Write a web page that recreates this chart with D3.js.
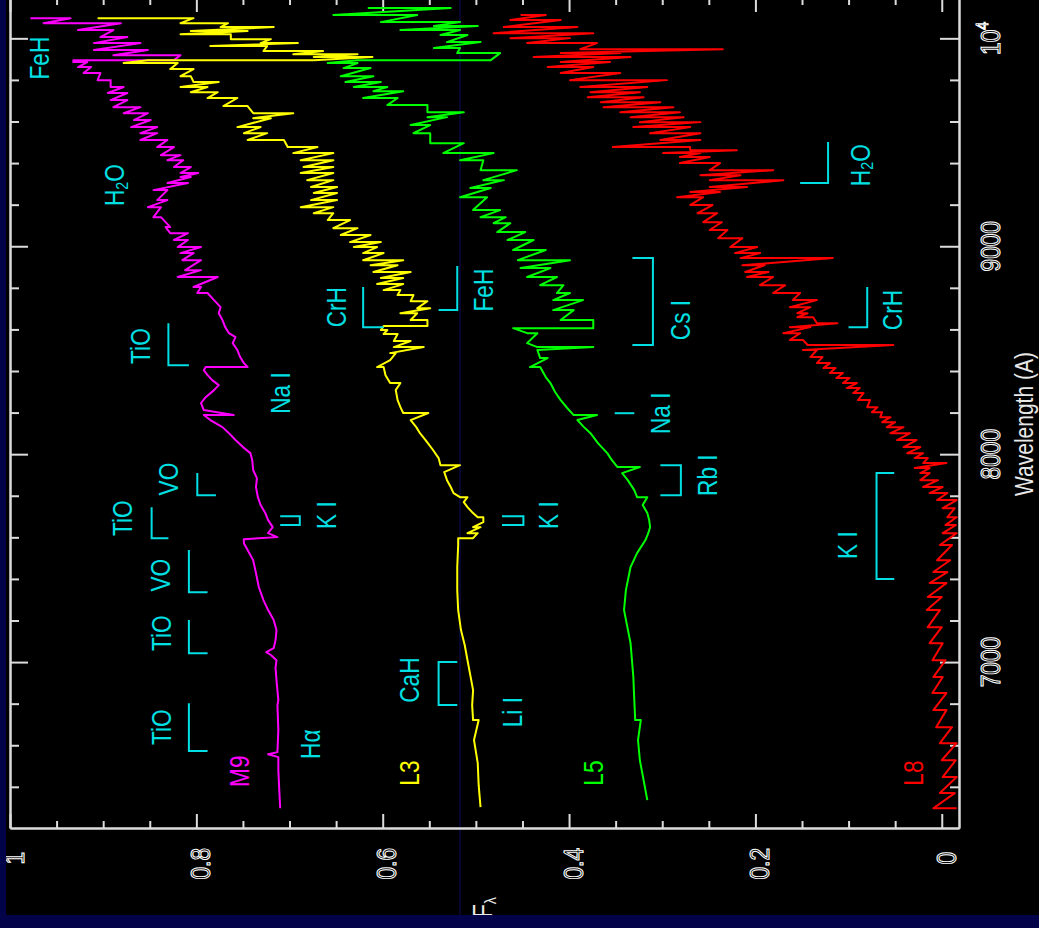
<!DOCTYPE html>
<html>
<head>
<meta charset="utf-8">
<script src="https://cdn.jsdelivr.net/npm/d3@7"></script>
<style>
  html, body { margin: 0; padding: 0; background: #03034a; }
  svg { display: block; }
  text { font-family: "Liberation Sans", "DejaVu Sans", sans-serif; }
</style>
</head>
<body>
<div id="chart"></div>
<script>
// wavelength (A), flux ; a third value = second flux read at the same wavelength
const m9 = [
  [10097,0.978,0.935],[10073,0.964,0.881],[10040,0.927,0.889],[10006,0.903,0.874],[9977,0.910,0.860],
  [9944,0.910,0.852],[9919,0.889,0.817],[9895,0.824,0.932],[9886,0.932,0.917],[9862,0.927,0.913],
  [9833,0.921,0.903],[9799,0.906,0.892],[9766,0.892,0.878],[9737,0.895,0.874],[9703,0.892,0.874],
  [9669,0.889,0.860],[9640,0.878,0.852],[9607,0.867,0.849],[9573,0.870,0.842],[9544,0.860,0.842],
  [9511,0.860,0.831],[9477,0.842,0.824],[9438,0.838,0.817],[9414,0.831,0.814],[9381,0.824,0.806],
  [9352,0.817,0.798],[9333,0.817,0.806],[9304,0.831,0.809],[9270,0.846,0.831],[9222,0.842,0.831],
  [9188,0.852,0.838],[9140,0.846,0.838],[9092,0.828,0.833],[9063,0.828,0.809],[9030,0.824,0.809],
  [8996,0.820,0.795],[8967,0.817,0.803],[8933,0.815,0.795],[8885,0.812,0.795],[8852,0.820,0.777],
  [8804,0.803,0.795],[8775,0.799,0.788],[8741,0.781],[8707,0.774],[8678,0.776],[8645,0.772],
  [8611,0.769],[8582,0.765],[8563,0.758],[8534,0.761],[8501,0.756],[8467,0.753],[8438,0.749],
  [8419,0.745,0.790],[8404,0.792],[8380,0.788],[8356,0.783],[8332,0.776],[8308,0.781],[8274,0.790],
  [8246,0.795],[8212,0.792],[8188,0.760,0.792],[8164,0.785],[8130,0.772],[8101,0.765],[8068,0.758],
  [8034,0.750],[8005,0.742],[7971,0.740],[7923,0.739],[7885,0.735],[7842,0.736],[7793,0.734],
  [7755,0.731],[7717,0.726],[7683,0.723],[7649,0.718],[7620,0.723],[7601,0.713],[7591,0.749],
  [7572,0.749],[7539,0.745],[7490,0.739],[7428,0.736],[7361,0.733],[7298,0.728],[7250,0.723],
  [7202,0.717],[7154,0.714],[7106,0.715],[7067,0.717],[7048,0.725],[7034,0.720],[7009,0.714],
  [6971,0.715],[6913,0.714],[6865,0.713],[6817,0.712],[6793,0.713],[6673,0.712],[6567,0.713],
  [6557,0.723],[6543,0.712],[6480,0.712],[6384,0.711],[6297,0.710]
];

const l3 = [
  [10097,0.906,0.803],[10073,0.817,0.766],[10054,0.774,0.717],[10035,0.806,0.745],[10020,0.817,0.763],
  [9996,0.763,0.720],[9977,0.731,0.691],[9963,0.785,0.724],[9939,0.728,0.664],[9924,0.696,0.627],
  [9910,0.674,0.611],[9895,0.674,0.852],[9881,0.878,0.820],[9852,0.828,0.803],[9818,0.817,0.806],
  [9790,0.803,0.776],[9766,0.817,0.788],[9741,0.806,0.777],[9713,0.788,0.756],[9674,0.771,0.745],
  [9640,0.739,0.696],[9616,0.739,0.720],[9573,0.756,0.731],[9544,0.749,0.724],[9511,0.745,0.706],
  [9477,0.702,0.670],[9448,0.696,0.653],[9414,0.688,0.653],[9381,0.685,0.653],[9352,0.688,0.653],
  [9318,0.681,0.653],[9285,0.677,0.649],[9256,0.674,0.649],[9222,0.677,0.649],[9188,0.688,0.653],
  [9159,0.674,0.653],[9126,0.659,0.635],[9087,0.653,0.627],[9054,0.645,0.613],[9020,0.635,0.602],
  [8996,0.631,0.606],[8967,0.621,0.599],[8933,0.621,0.578],[8909,0.613,0.584],[8876,0.610,0.570],
  [8847,0.602,0.578],[8818,0.606,0.578],[8789,0.599,0.581],[8765,0.584,0.567],[8736,0.570,0.552],
  [8702,0.563,0.549],[8678,0.581,0.563],[8645,0.570,0.552],[8616,0.552,0.599],[8597,0.602,0.595],
  [8578,0.599,0.584],[8544,0.588,0.570],[8515,0.588,0.556],[8486,0.592,0.586],[8452,0.592],
  [8419,0.606,0.599],[8380,0.597],[8342,0.592,0.581],[8308,0.586],[8260,0.584],[8226,0.581],
  [8198,0.578,0.551],[8164,0.570],[8130,0.564],[8101,0.560],[8068,0.554],[8020,0.546],[7981,0.540],
  [7947,0.538,0.517],[7914,0.534],[7875,0.531],[7842,0.527],[7813,0.524],[7793,0.517,0.509],
  [7769,0.513],[7745,0.509],[7721,0.504],[7697,0.498,0.492],[7673,0.492],[7649,0.503,0.495],
  [7620,0.509,0.498],[7596,0.503,0.519],[7563,0.519],[7457,0.520],[7346,0.520],[7250,0.519],
  [7154,0.516],[7082,0.512],[7009,0.509],[6937,0.506],[6865,0.503],[6793,0.504],[6721,0.503,0.497],
  [6625,0.502],[6514,0.498],[6408,0.497],[6302,0.495]
];

const l5 = [
  [10146,0.616,0.527],[10112,0.653,0.563],[10078,0.602,0.517],[10059,0.545,0.498],[10040,0.581,0.517],
  [10016,0.538,0.509],[9982,0.531,0.495],[9953,0.545,0.517],[9929,0.520,0.474],[9895,0.484,0.627],
  [9881,0.659,0.627],[9857,0.642,0.613],[9818,0.645,0.610],[9790,0.640,0.602],[9766,0.631,0.595],
  [9746,0.610,0.578],[9713,0.621,0.584],[9679,0.595,0.552],[9645,0.552,0.513],[9621,0.552,0.531],
  [9583,0.570,0.549],[9544,0.567,0.549],[9496,0.549,0.513],[9448,0.535,0.481],[9414,0.517,0.492],
  [9366,0.495,0.456],[9318,0.492,0.470],[9280,0.506,0.484],[9236,0.517,0.488],[9174,0.503,0.474],
  [9140,0.495,0.468],[9111,0.481,0.463],[9068,0.477,0.447],[9030,0.466,0.438],[8982,0.460,0.425],
  [8933,0.455,0.399],[8895,0.452,0.420],[8852,0.445,0.413],[8813,0.431,0.406],[8775,0.413,0.399],
  [8741,0.417,0.385],[8693,0.417,0.395],[8645,0.409,0.374],[8606,0.374,0.460],[8582,0.445,0.434],
  [8534,0.445],[8515,0.434,0.374],[8501,0.434],[8462,0.431,0.423],[8419,0.442,0.431],[8371,0.425],
  [8342,0.420],[8299,0.415],[8260,0.409],[8222,0.402],[8188,0.395,0.370],[8164,0.391],[8130,0.384],
  [8101,0.377],[8053,0.369],[8005,0.359],[7971,0.354],[7938,0.348,0.324],[7909,0.343],[7875,0.337],
  [7827,0.330],[7793,0.327,0.316],[7755,0.321],[7717,0.316],[7683,0.314],[7649,0.313],[7620,0.315],
  [7587,0.318],[7524,0.327],[7457,0.334],[7346,0.339],[7250,0.341],[7091,0.334],[6928,0.331],
  [6817,0.330],[6721,0.329,0.323],[6625,0.326],[6528,0.324],[6432,0.320],[6336,0.316]
];

const l8 = [
  [10112,0.452,0.425],[10088,0.463,0.409],[10054,0.470,0.391],[10025,0.481,0.374],[10001,0.463,0.399],
  [9977,0.445,0.370],[9948,0.388,0.235],[9929,0.409,0.345],[9910,0.438,0.334],[9886,0.409,0.356],
  [9862,0.423,0.374],[9833,0.409,0.345],[9799,0.399,0.295],[9766,0.388,0.316],[9741,0.377,0.324],
  [9717,0.380,0.320],[9693,0.366,0.302],[9669,0.363,0.288],[9645,0.345,0.281],[9621,0.334,0.277],
  [9597,0.324,0.259],[9573,0.331,0.270],[9544,0.313,0.259],[9511,0.302,0.259],[9477,0.353,0.270],
  [9462,0.270,0.220],[9448,0.299,0.259],[9429,0.281,0.249],[9400,0.281,0.238],[9366,0.249,0.181],
  [9342,0.259,0.216],[9318,0.249,0.170],[9285,0.249,0.209],[9261,0.270,0.238],[9236,0.284,0.256],
  [9198,0.270,0.246],[9159,0.262,0.241],[9116,0.256,0.236],[9078,0.249,0.230],[9039,0.240,0.214],
  [8996,0.227,0.198],[8967,0.222,0.195],[8943,0.216,0.117],[8909,0.214,0.190],[8876,0.211,0.186],
  [8852,0.209,0.181],[8813,0.195,0.168],[8775,0.181,0.152],[8741,0.160,0.134],[8707,0.163,0.141],
  [8678,0.155,0.144],[8659,0.155,0.138],[8630,0.134,0.112],[8611,0.163,0.141],[8582,0.170,0.152],
  [8549,0.163,0.149],[8525,0.144,0.052],[8501,0.149,0.134],[8467,0.141,0.128],[8438,0.134,0.120],
  [8414,0.127,0.114],[8390,0.120,0.106],[8366,0.113,0.099],[8342,0.106,0.091],[8318,0.102,0.088],
  [8294,0.095,0.084],[8260,0.090,0.077],[8226,0.080,0.069],[8202,0.075,0.064],[8178,0.066,0.055],
  [8154,0.064,0.050],[8130,0.059,0.041],[8101,0.055,0.034],[8068,0.048,0.027],[8034,0.041,0.023],
  [8005,0.037,0.020],[7981,0.029,0.015],[7957,0.020,-0.005],[7933,0.029,0.013],[7909,0.023,0.013],
  [7875,0.023,0.004],[7842,0.020,-0.001],[7813,0.013,-0.006],[7779,0.005,-0.016],[7740,-0.001,-0.014],
  [7697,-0.006,-0.016],[7659,-0.004,-0.015],[7620,-0.001,-0.016],[7563,0.002,-0.011],[7490,0.005,-0.009],
  [7433,0.009,-0.006],[7380,0.013,-0.005],[7313,0.015,0.000],[7250,0.016,0.002],[7168,0.015,0.000],
  [7091,0.013,-0.001],[7009,0.010,-0.004],[6928,0.009,-0.001],[6851,0.010,-0.005],[6769,0.009,-0.005],
  [6687,0.006,-0.011],[6610,0.002,-0.016],[6528,0.000,-0.015],[6447,-0.001,-0.016],[6370,0.002,-0.014],
  [6297,0.009,-0.016]
];

const spectrumNames = ["M9", "L3", "L5", "L8"];
const spectrumColors = ["#ff00ff", "#ffff00", "#00ff00", "#ff0000"];
// where each spectral type name sits: wavelength, flux
const spectrumNameAt = [[6475, 0.754], [6466, 0.572], [6466, 0.374], [6466, 0.031]];

const waveMajor = [7000, 8000, 9000, 10000];
const waveMinor = [6400, 6600, 6800, 7200, 7400, 7600, 7800, 8200, 8400, 8600, 8800, 9200, 9400, 9600, 9800];
const waveLabels = ["7000", "8000", "9000", "10^4"];
const fluxMajor = [0, 0.2, 0.4, 0.6, 0.8, 1];
const fluxMinor = [0.05, 0.1, 0.15, 0.25, 0.3, 0.35, 0.45, 0.5, 0.55, 0.65, 0.7, 0.75, 0.85, 0.9, 0.95];
const fluxLabels = ["0", "0.2", "0.4", "0.6", "0.8", "1"];

// band brackets: wavelength top, wavelength bottom, flux of the bar, flux the feet reach, feet
const bandMarks = [
  [8630, 8428, 0.830, 0.808, "bottom"],
  [7909, 7803, 0.799, 0.779, "bottom"],
  [7745, 7596, 0.848, 0.830, "bottom"],
  [7539, 7336, 0.808, 0.788, "bottom"],
  [7202, 7043, 0.808, 0.788, "bottom"],
  [6802, 6572, 0.808, 0.788, "bottom"],
  [7702, 7659, 0.689, 0.710, "both"],
  [7702, 7659, 0.449, 0.472, "both"],
  [8804, 8611, 0.621, 0.599, "bottom"],
  [8905, 8693, 0.520, 0.540, "bottom"],
  [7000, 6793, 0.540, 0.520, "both"],
  [8943, 8525, 0.310, 0.332, "both"],
  [8197, 8197, 0.351, 0.330, "bottom"],
  [7947, 7803, 0.280, 0.302, "both"],
  [9501, 9304, 0.122, 0.152, "bottom"],
  [8804, 8611, 0.080, 0.100, "bottom"],
  [7909, 7399, 0.070, 0.051, "both"]
];

// feature names: text, wavelength, flux ("_" starts a subscript character)
const bandLabels = [
  ["FeH", 9905, 0.969], ["H_2O", 9294, 0.888], ["TiO", 8520, 0.860], ["Na I", 8294, 0.710],
  ["VO", 7880, 0.830], ["TiO", 7692, 0.879], ["K I", 7707, 0.661], ["VO", 7418, 0.839],
  ["TiO", 7139, 0.838], ["TiO", 6687, 0.838], ["H\u03b1", 6605, 0.678],
  ["CrH", 8707, 0.650], ["FeH", 8789, 0.492], ["CaH", 6913, 0.571], ["Li I", 6759, 0.461],
  ["K I", 7707, 0.422], ["Cs I", 8645, 0.281], ["Na I", 8197, 0.302], ["Rb I", 7899, 0.252],
  ["H_2O", 9390, 0.088], ["CrH", 8693, 0.053], ["K I", 7563, 0.101]
];

const W = 1039, H = 928;
const cyan = "#00e0e4";
const frameColor = "#dcdcdc";

const svg = d3.select("#chart").append("svg")
  .attr("width", W)
  .attr("height", H);

svg.append("rect").attr("width", W).attr("height", H).attr("fill", "#03034a");
svg.append("rect").attr("x", 6).attr("y", 0).attr("width", W - 6).attr("height", 915).attr("fill", "#000");

// plot is turned on its side: wavelength runs up, flux runs left
const y = d3.scaleLinear().domain([6202, 10194]).range([828, -2]);
const x = d3.scaleLinear().domain([-0.0185, 1]).range([959, 10]);

// thin stray line in the scan
svg.append("line")
  .attr("x1", 460).attr("x2", 460).attr("y1", 0).attr("y2", 915)
  .attr("stroke", "#0c0c5e").attr("stroke-width", 1);

function frameAxis(axis, tx, ty) {
  const g = svg.append("g")
    .attr("transform", `translate(${tx},${ty})`)
    .call(axis);
  g.selectAll("text").remove();
  g.selectAll("path, line").attr("stroke", frameColor).attr("stroke-width", 2);
  return g;
}

frameAxis(d3.axisRight(y).tickValues(waveMajor).tickSize(18).tickSizeOuter(0), 10, 0);
frameAxis(d3.axisRight(y).tickValues(waveMinor).tickSize(9).tickSizeOuter(0), 10, 0);
frameAxis(d3.axisLeft(y).tickValues(waveMajor).tickSize(19).tickSizeOuter(0), 959, 0);
frameAxis(d3.axisLeft(y).tickValues(waveMinor).tickSize(9).tickSizeOuter(0), 959, 0);
frameAxis(d3.axisTop(x).tickValues(fluxMajor).tickSize(14).tickSizeOuter(0), 0, 828);
frameAxis(d3.axisTop(x).tickValues(fluxMinor).tickSize(7).tickSizeOuter(0), 0, 828);
frameAxis(d3.axisBottom(x).tickValues(fluxMajor).tickSize(14).tickSizeOuter(0), 0, -2);
frameAxis(d3.axisBottom(x).tickValues(fluxMinor).tickSize(7).tickSizeOuter(0), 0, -2);

// rotated, narrowed text; "_x" makes a subscript, "^x" a superscript
function rotText(str, px, py, color, anchor, outline, size = 27) {
  const t = svg.append("text")
    .attr("transform", `translate(${px},${py}) rotate(-90) scale(0.84,1)`)
    .attr("text-anchor", anchor)
    .attr("dominant-baseline", "central")
    .attr("font-size", size);
  if (outline) {
    t.attr("fill", "none").attr("stroke", color).attr("stroke-width", 1.1);
  } else {
    t.attr("fill", color);
  }
  const parts = str.split(/([_^].)/).filter(s => s.length);
  let back = 0;
  parts.forEach(p => {
    if (p[0] === "_" || p[0] === "^") {
      const shift = p[0] === "_" ? 7 : -9;
      t.append("tspan").attr("font-size", size * 0.63).attr("dy", shift).text(p[1]);
      back = -shift;
    } else {
      const s = t.append("tspan").text(p);
      if (back) { s.attr("dy", back); back = 0; }
    }
  });
  return t;
}

// spectra
const line = d3.line()
  .x(d => x(d[1]))
  .y(d => y(d[0]));

[m9, l3, l5, l8].forEach((rows, k) => {
  const pts = rows.flatMap(r => r.slice(1).map(f => [r[0], f]));
  svg.append("path")
    .datum(pts)
    .attr("fill", "none")
    .attr("stroke", spectrumColors[k])
    .attr("stroke-width", 2)
    .attr("stroke-linejoin", "round")
    .attr("d", line);
  rotText(spectrumNames[k], x(spectrumNameAt[k][1]), y(spectrumNameAt[k][0]), spectrumColors[k], "middle", false);
});

// band brackets
bandMarks.forEach(([wTop, wBot, f, fFoot, feet]) => {
  let d = `M${x(fFoot)},${y(wBot)}H${x(f)}V${y(wTop)}`;
  if (feet === "both") d += `H${x(fFoot)}`;
  svg.append("path")
    .attr("d", d)
    .attr("fill", "none")
    .attr("stroke", cyan)
    .attr("stroke-width", 2);
});

bandLabels.forEach(([txt, w, f]) => {
  rotText(txt, x(f), y(w), cyan, "middle", false);
});

// tick labels
waveMajor.forEach((w, i) => {
  rotText(waveLabels[i], 990, y(w), "#fff", "middle", true);
});
fluxMajor.forEach((f, i) => {
  const endY = fluxLabels[i].length > 1 ? 848 : 852;
  rotText(fluxLabels[i], x(f) + 4, endY, "#fff", "end", true);
});

rotText("Wavelength (A)", 1024, 424, "#e8e8e8", "middle", false, 25);
rotText("F_\u03bb", 482, 897, "#e8e8e8", "end", false);

// border of the slide on top of everything
svg.append("rect").attr("x", 0).attr("y", 915).attr("width", W).attr("height", H - 915).attr("fill", "#03034a");
svg.append("rect").attr("x", 0).attr("y", 0).attr("width", 6).attr("height", H).attr("fill", "#03034a");
</script>
</body>
</html>
